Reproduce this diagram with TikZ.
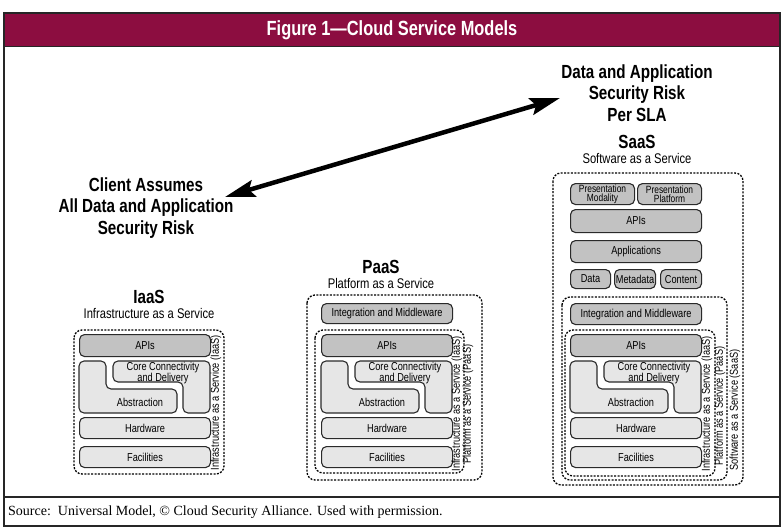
\documentclass[tikz,border=0pt]{standalone}
\usepackage{fontspec}
\setmainfont{Liberation Sans}
\newfontfamily\cond{Liberation Sans}[FakeStretch=0.8]
\newfontfamily\footfont{Liberation Serif}
\usetikzlibrary{arrows.meta}
\definecolor{burg}{HTML}{8C0D40}
\definecolor{dkfill}{HTML}{C2C2C2}
\definecolor{ltfill}{HTML}{E6E6E6}
\definecolor{edge}{HTML}{2A2A2A}
\tikzset{
 layer/.style={draw=edge, line width=1.1pt, rounded corners=5pt, inner sep=0pt, anchor=north west, font=\cond\fontsize{11.5}{12}\selectfont, align=center},
 dk/.style={layer, fill=dkfill},
 lt/.style={layer, fill=ltfill},
 shapepath/.style={draw=edge, line width=1.1pt, rounded corners=5pt, fill=ltfill},
 dbox/.style={draw=black, line width=1.3pt, dash pattern=on 2pt off 1.4pt, rounded corners=8pt},
 vlabel/.style={rotate=90, font=\cond\fontsize{11.5}{12}\selectfont, inner sep=0pt},
 head/.style={font=\cond\bfseries\fontsize{19}{21.5}\selectfont, align=center},
 sub/.style={font=\cond\fontsize{14}{16}\selectfont},
 lbl/.style={font=\cond\fontsize{11.5}{11}\selectfont, inner sep=0pt, align=center},
}
\newcommand\corestack[1]{%
 \node[dk, minimum width=131, minimum height=22] (#1apis) at (0,0) {APIs};
 \draw[shapepath] (0,27) -- (27,27) -- (27,55) -- (98,55) -- (98,79) -- (0,79) -- cycle;
 \node[lbl] (#1abs) at (61,68) {Abstraction};
 \draw[shapepath] (34,27) -- (131,27) -- (131,79) -- (104,79) -- (104,48) -- (34,48) -- cycle;
 \node[lbl] (#1core) at (84,39) {Core Connectivity\\and Delivery};
 \node[lt, minimum width=131, minimum height=21] (#1hw) at (0,83) {Hardware};
 \node[lt, minimum width=131, minimum height=21] (#1fac) at (0,112) {Facilities};
}
\begin{document}
\begin{tikzpicture}[x=1pt,y=-1pt]
\useasboundingbox (0,0) rectangle (782,527);
% frame
\fill[burg] (4,13) rectangle (780,46);
\node[font=\cond\bfseries\fontsize{20.5}{24}\selectfont, text=white] (title) at (392,30) {Figure 1—Cloud Service Models};
\draw[line width=1.6pt, black!85] (4,13) rectangle (780,526);
\draw[line width=1.6pt, black!85] (4,46.5) -- (780,46.5);
\draw[line width=1.6pt, black!85] (4,497) -- (780,497);
\node[font=\footfont\fontsize{14}{16}\selectfont, anchor=west, inner sep=0pt] (src) at (8,512) {Source:\ \ Universal Model, © Cloud Security Alliance. Used with permission.};
% risk labels and arrow
\node[head] (client) at (146,208) {Client Assumes\\All Data and Application\\Security Risk};
\node[head] (sla) at (637,93) {Data and Application\\Security Risk\\Per SLA};
\coordinate (aL) at (225,197);
\coordinate (aR) at (560,98);
\draw[line width=4.5pt, {Stealth[length=30pt,width=17pt,inset=5pt]}-{Stealth[length=30pt,width=17pt,inset=5pt]}] (aL) -- (aR);
% headings
\node[head] (iaash) at (149,297) {IaaS};
\node[sub] (iaass) at (149,313) {Infrastructure as a Service};
\node[head] (paash) at (381,267) {PaaS};
\node[sub] (paass) at (381,283) {Platform as a Service};
\node[head] (saash) at (637,142) {SaaS};
\node[sub] (saass) at (637,158) {Software as a Service};
% IaaS
\begin{scope}[shift={(79,334)}]
 \corestack{i}
 \draw[dbox] (-5,-4) rectangle (145,140);
 \node[vlabel] (ivl) at (137,69) {Infrastructure as a Service (IaaS)};
\end{scope}
% PaaS
\begin{scope}[shift={(321,334)}]
 \corestack{p}
 \node[dk, minimum width=131, minimum height=20] (pint) at (0,-31) {Integration and Middleware};
 \draw[dbox] (-6,-4) rectangle (143,139);
 \draw[dbox] (-14,-39) rectangle (161,146);
 \node[vlabel] (pvl1) at (136,70) {Infrastructure as a Service (IaaS)};
 \node[vlabel] (pvl2) at (147,70) {Platform as a Service (PaaS)};
\end{scope}
% SaaS
\begin{scope}[shift={(570,334)}]
 \corestack{s}
 \node[dk, minimum width=131, minimum height=21] (sint) at (0,-31) {Integration and Middleware};
 \node[dk, minimum width=64, minimum height=21, font=\cond\fontsize{10.5}{9.5}\selectfont] (spm) at (0,-151) {Presentation\\Modality};
 \node[dk, minimum width=64, minimum height=21, font=\cond\fontsize{10.5}{9.5}\selectfont] (spp) at (67,-151) {Presentation\\Platform};
 \node[dk, minimum width=131, minimum height=23] (sapis2) at (0,-125) {APIs};
 \node[dk, minimum width=131, minimum height=22] (sapp) at (0,-94) {Applications};
 \node[dk, minimum width=40, minimum height=19] (sdata) at (0,-65) {Data};
 \node[dk, minimum width=41, minimum height=19] (smeta) at (44,-65) {Metadata};
 \node[dk, minimum width=41, minimum height=19] (scont) at (90,-65) {Content};
 \draw[dbox] (-5,-4) rectangle (145,142);
 \draw[dbox] (-8,-37) rectangle (157,146);
 \draw[dbox] (-17,-161) rectangle (173,151);
 \node[vlabel] (svl1) at (137,70) {Infrastructure as a Service (IaaS)};
 \node[vlabel] (svl2) at (150,72) {Platform as a Service (PaaS)};
 \node[vlabel] (svl3) at (165,76) {Software as a Service (SaaS)};
\end{scope}
\end{tikzpicture}
\end{document}
